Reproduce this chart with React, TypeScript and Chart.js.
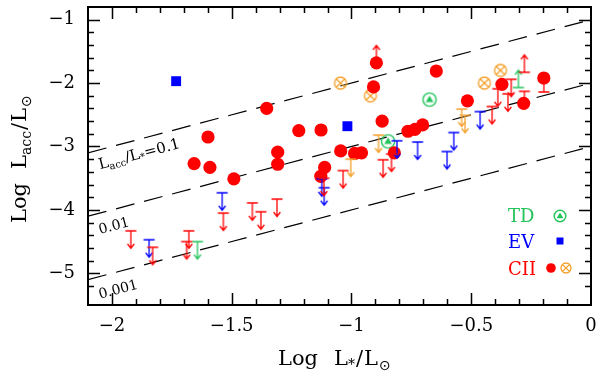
import React, { useEffect, useRef } from "react";
import { Chart, registerables } from "chart.js";
Chart.register(...registerables);

// ---- axes ----
const X_MIN = -2.1;
const X_MAX = 0;
const Y_MIN = -5.5;
const Y_MAX = -0.8;
const X_TICKS = [-2, -1.5, -1, -0.5, 0];
const Y_TICKS = [-5, -4, -3, -2, -1];

// ---- Lacc/L* = const lines (log ratio) ----
const RATIO_LOGS = [-1, -2, -3];
const RATIO_LABELS = ["0.1", "0.01", "0.001"];

// ---- CII detections (red filled circles) ----
const ciiX = [-0.896, -0.646, -0.908, -1.354, -0.872, -1.599, -1.22, -1.127, -1.308, -1.308, -1.657, -1.591, -1.491,
  -1.045, -0.987, -0.958, -1.112, -1.128, -0.821, -0.764, -0.735, -0.703, -0.516, -0.372, -0.281, -0.197];
const ciiY = [-1.68, -1.81, -2.06, -2.4, -2.6, -2.85, -2.75, -2.74, -3.09, -3.28, -3.27, -3.33, -3.51,
  -3.07, -3.11, -3.1, -3.33, -3.47, -3.1, -2.76, -2.73, -2.66, -2.28, -2.02, -2.32, -1.92];

// ---- CII (orange crossed circles) ----
const ciiOX = [-1.046, -0.921, -0.445, -0.378];
const ciiOY = [-2.0, -2.2, -2.0, -1.8];

// ---- TD (green) ----
const tdX = [-0.674, -0.847];
const tdY = [-2.26, -2.92];

// ---- EV (blue squares) ----
const evX = [-1.732, -1.017];
const evY = [-1.97, -2.68];

// ---- upper limits ----
const redUpX = [-1.921, -1.83, -1.679, -1.688, -1.535, -1.414, -1.378, -1.311, -1.115, -1.035, -0.868, -0.833,
  -0.413, -0.389, -0.347, -0.333, -0.278];
const redUpY = [-4.33, -4.59, -4.33, -4.5, -4.05, -3.89, -4.03, -3.83, -3.5, -3.38, -3.21, -3.12,
  -2.37, -2.09, -2.17, -1.94, -2.13];
const blueUpX = [-1.845, -1.54, -1.124, -1.114, -0.81, -0.724, -0.601, -0.573, -0.463];
const blueUpY = [-4.47, -3.73, -3.51, -3.65, -2.91, -2.93, -3.08, -2.78, -2.45];
const orangeUpX = [-0.887, -1.003, -0.54, -0.526];
const orangeUpY = [-2.82, -3.2, -2.41, -2.51];
const greenUpX = [-1.643];
const greenUpY = [-4.5];

// ---- lower limits ----
const redLowX = [-0.896, -0.278, -0.197];
const redLowY = [-1.68, -1.83, -2.14];
const greenLowX = [-0.303];
const greenLowY = [-2.07];

const RED = "#ff0000";
const BLUE = "#0000ff";
const GREEN = "#22c45a";
const ORANGE = "#f5a02a";
const SERIF = "'DejaVu Serif', 'DejaVu Sans', serif";

const pts = (xs: number[], ys: number[]) => xs.map((x, i) => ({ x, y: ys[i] }));

function mk(w: number, h: number, draw: (g: CanvasRenderingContext2D) => void) {
  const c = document.createElement("canvas");
  c.width = w;
  c.height = h;
  const g = c.getContext("2d")!;
  draw(g);
  return c;
}

const ARROW = 17.5;

function upperImg(color: string) {
  return mk(14, 40, (g) => {
    g.strokeStyle = color;
    g.lineWidth = 1.3;
    g.beginPath();
    g.moveTo(1.5, 20);
    g.lineTo(12.5, 20);
    g.moveTo(7, 20);
    g.lineTo(7, 20 + ARROW);
    g.moveTo(3.6, 20 + ARROW - 4.5);
    g.lineTo(7, 20 + ARROW);
    g.lineTo(10.4, 20 + ARROW - 4.5);
    g.stroke();
  });
}
function lowerImg(color: string) {
  return mk(14, 40, (g) => {
    g.strokeStyle = color;
    g.lineWidth = 1.3;
    g.beginPath();
    g.moveTo(1.5, 20);
    g.lineTo(12.5, 20);
    g.moveTo(7, 20);
    g.lineTo(7, 20 - ARROW);
    g.moveTo(3.6, 20 - ARROW + 4.5);
    g.lineTo(7, 20 - ARROW);
    g.lineTo(10.4, 20 - ARROW + 4.5);
    g.stroke();
  });
}
function tdImg(r: number) {
  const s = Math.ceil(r * 2 + 4);
  return mk(s, s, (g) => {
    const c = s / 2;
    g.strokeStyle = GREEN;
    g.fillStyle = GREEN;
    g.lineWidth = 1.4;
    g.beginPath();
    g.arc(c, c, r, 0, Math.PI * 2);
    g.stroke();
    const t = r * 0.62;
    g.beginPath();
    g.moveTo(c, c - t);
    g.lineTo(c - t * 0.95, c + t * 0.62);
    g.lineTo(c + t * 0.95, c + t * 0.62);
    g.closePath();
    g.fill();
  });
}
function oxImg(r: number) {
  const s = Math.ceil(r * 2 + 4);
  return mk(s, s, (g) => {
    const c = s / 2;
    g.strokeStyle = ORANGE;
    g.lineWidth = 1.3;
    g.beginPath();
    g.arc(c, c, r, 0, Math.PI * 2);
    const d = r * 0.68;
    g.moveTo(c - d, c - d);
    g.lineTo(c + d, c + d);
    g.moveTo(c - d, c + d);
    g.lineTo(c + d, c - d);
    g.stroke();
  });
}

type Seg = { t: string; size: number; dy?: number; gap?: number; font?: string };
function drawSegs(ctx: CanvasRenderingContext2D, segs: Seg[], x0: number, y0: number) {
  let x = x0;
  for (const s of segs) {
    ctx.font = `${s.size}px ${s.font || SERIF}`;
    x += s.gap || 0;
    ctx.fillText(s.t, x, y0 + (s.dy || 0));
    x += ctx.measureText(s.t).width;
  }
}

const minus = (v: number) => (v < 0 ? "\u2212" + String(Math.abs(v)) : String(v));

export default function App() {
  const ref = useRef<HTMLCanvasElement>(null);
  useEffect(() => {
    const imgs = {
      redUp: upperImg(RED),
      blueUp: upperImg(BLUE),
      orangeUp: upperImg(ORANGE),
      greenUp: upperImg(GREEN),
      redLow: lowerImg(RED),
      greenLow: lowerImg(GREEN),
      td: tdImg(6.6),
      tdLeg: tdImg(5.8),
      ox: oxImg(6),
      oxLeg: oxImg(5),
    };

    const decor = {
      id: "decor",
      beforeDatasetsDraw(chart: any) {
        const { ctx, scales } = chart;
        const xs = scales.x;
        const ys = scales.y;
        ctx.save();
        ctx.fillStyle = "#000";
        ctx.textBaseline = "alphabetic";
        const offs = [0.31, 0.33, 0.35];
        RATIO_LOGS.forEach((r, i) => {
          const p1x = xs.getPixelForValue(-2);
          const p1y = ys.getPixelForValue(-2 + r);
          const p2x = xs.getPixelForValue(-1);
          const p2y = ys.getPixelForValue(-1 + r);
          const ang = Math.atan2(p2y - p1y, p2x - p1x);
          const lx = -2.05;
          const ax = xs.getPixelForValue(lx);
          const ay = ys.getPixelForValue(lx + r - offs[i]);
          ctx.save();
          ctx.translate(ax, ay);
          ctx.rotate(ang);
          if (i === 0) {
            drawSegs(ctx, [
              { t: "L", size: 15 },
              { t: "acc", size: 10, dy: 3 },
              { t: "/", size: 15 },
              { t: "L", size: 15 },
              { t: "*", size: 10, dy: 2 },
              { t: "=" + RATIO_LABELS[i], size: 15 },
            ], 0, 0);
          } else {
            drawSegs(ctx, [{ t: RATIO_LABELS[i], size: 14 }], 0, 0);
          }
          ctx.restore();
        });
        ctx.restore();
      },
      afterDraw(chart: any) {
        const { ctx, chartArea: a, scales } = chart;
        const xs = scales.x;
        const ys = scales.y;
        ctx.save();
        // frame
        ctx.strokeStyle = "#000";
        ctx.lineWidth = 2;
        ctx.strokeRect(a.left, a.top, a.right - a.left, a.bottom - a.top);
        // ticks
        ctx.lineWidth = 1.5;
        ctx.beginPath();
        for (let k = Math.ceil(X_MIN * 10) + 1; k < Math.round(X_MAX * 10); k++) {
          const v = k / 10;
          const major = k % 5 === 0;
          const L = major ? 12 : 6;
          const px = Math.round(xs.getPixelForValue(v)) + 0.5;
          ctx.moveTo(px, a.bottom);
          ctx.lineTo(px, a.bottom - L);
          ctx.moveTo(px, a.top);
          ctx.lineTo(px, a.top + L);
        }
        for (let k = Math.round(Y_MIN * 5) + 1; k < Math.round(Y_MAX * 5); k++) {
          const v = k / 5;
          const major = k % 5 === 0;
          const L = major ? 12 : 6;
          const py = Math.round(ys.getPixelForValue(v)) + 0.5;
          ctx.moveTo(a.left, py);
          ctx.lineTo(a.left + L, py);
          ctx.moveTo(a.right, py);
          ctx.lineTo(a.right - L, py);
        }
        ctx.stroke();

        // axis titles
        ctx.fillStyle = "#000";
        ctx.textBaseline = "alphabetic";
        drawSegs(ctx, [
          { t: "Log", size: 21 },
          { t: "L", size: 21, gap: 16 },
          { t: "*", size: 14, dy: 4 },
          { t: "/", size: 21, gap: 1 },
          { t: "L", size: 21, gap: 1 },
          { t: "\u2299", size: 14, dy: 5, gap: 1, font: "'DejaVu Sans', sans-serif" },
        ], 278, 365);
        ctx.save();
        ctx.translate(26, 223);
        ctx.rotate(-Math.PI / 2);
        drawSegs(ctx, [
          { t: "Log", size: 21 },
          { t: "L", size: 21, gap: 14 },
          { t: "acc", size: 14, dy: 5 },
          { t: "/", size: 21, gap: 1 },
          { t: "L", size: 21, gap: 1 },
          { t: "\u2299", size: 14, dy: 5, gap: 1, font: "'DejaVu Sans', sans-serif" },
        ], 0, 0);
        ctx.restore();

        // legend
        const lx = a.right - 83;
        const rows = [
          { t: "TD", c: GREEN, by: a.bottom - 83 },
          { t: "EV", c: BLUE, by: a.bottom - 57 },
          { t: "CII", c: RED, by: a.bottom - 30 },
        ];
        ctx.font = `18px ${SERIF}`;
        rows.forEach((r) => {
          ctx.fillStyle = r.c;
          ctx.fillText(r.t, lx, r.by);
        });
        const td = imgs.tdLeg;
        ctx.drawImage(td, a.right - 31 - td.width / 2, a.bottom - 89 - td.height / 2);
        ctx.fillStyle = BLUE;
        ctx.fillRect(a.right - 34.5, a.bottom - 67.5, 7, 7);
        ctx.fillStyle = RED;
        ctx.beginPath();
        ctx.arc(a.right - 40, a.bottom - 37, 4.8, 0, Math.PI * 2);
        ctx.fill();
        const ox = imgs.oxLeg;
        ctx.drawImage(ox, a.right - 25 - ox.width / 2, a.bottom - 37 - ox.height / 2);
        ctx.restore();
      },
    };

    const imgDs = (data: any[], img: HTMLCanvasElement) => ({
      type: "scatter" as const,
      data,
      pointStyle: img,
      pointRadius: 3,
      showLine: false,
    });

    const lineDs = RATIO_LOGS.map((r) => ({
      type: "line" as const,
      data: [
        { x: X_MIN, y: X_MIN + r },
        { x: X_MAX, y: X_MAX + r },
      ],
      borderColor: "#000",
      borderWidth: 1.2,
      borderDash: [19, 10],
      pointRadius: 0,
      fill: false,
    }));

    const chart = new Chart(ref.current!, {
      type: "scatter",
      data: {
        datasets: [
          imgDs(pts(redUpX, redUpY), imgs.redUp),
          imgDs(pts(blueUpX, blueUpY), imgs.blueUp),
          imgDs(pts(orangeUpX, orangeUpY), imgs.orangeUp),
          imgDs(pts(greenUpX, greenUpY), imgs.greenUp),
          imgDs(pts(redLowX, redLowY), imgs.redLow),
          imgDs(pts(greenLowX, greenLowY), imgs.greenLow),
          {
            data: pts(ciiX, ciiY),
            pointStyle: "circle",
            pointRadius: 6.6,
            backgroundColor: RED,
            borderWidth: 0,
          },
          imgDs(pts(ciiOX, ciiOY), imgs.ox),
          imgDs(pts(tdX, tdY), imgs.td),
          {
            data: pts(evX, evY),
            pointStyle: "rect",
            pointRadius: 7,
            backgroundColor: BLUE,
            borderWidth: 0,
          },
          ...lineDs,
        ] as any,
      },
      options: {
        responsive: false,
        animation: false,
        devicePixelRatio: 1,
        events: [],
        layout: { padding: { top: 4, right: 9, left: 0, bottom: 0 } },
        plugins: { legend: { display: false }, tooltip: { enabled: false } },
        scales: {
          x: {
            type: "linear",
            min: X_MIN,
            max: X_MAX,
            grid: { display: false, drawTicks: false },
            border: { display: false },
            afterBuildTicks: (s: any) => {
              s.ticks = X_TICKS.map((v) => ({ value: v }));
            },
            afterFit: (s: any) => {
              s.height = 71;
              s.paddingLeft = 0;
              s.paddingRight = 0;
            },
            ticks: {
              autoSkip: false,
              maxRotation: 0,
              padding: 11,
              color: "#000",
              font: { family: SERIF, size: 18 },
              callback: (v: any) => minus(Number(v)),
            },
          },
          y: {
            type: "linear",
            min: Y_MIN,
            max: Y_MAX,
            grid: { display: false, drawTicks: false },
            border: { display: false },
            afterBuildTicks: (s: any) => {
              s.ticks = Y_TICKS.map((v) => ({ value: v }));
            },
            afterFit: (s: any) => {
              s.width = 88;
              s.paddingTop = 0;
              s.paddingBottom = 0;
            },
            ticks: {
              autoSkip: false,
              padding: 13,
              color: "#000",
              font: { family: SERIF, size: 18 },
              callback: (v: any) => minus(Number(v)),
            },
          },
        },
      },
      plugins: [decor],
    } as any);
    return () => chart.destroy();
  }, []);
  return (
    <div style={{ position: "fixed", left: 0, top: 0, width: 600, height: 376, background: "#fff" }}>
      <canvas ref={ref} width={600} height={376} style={{ display: "block" }} />
    </div>
  );
}
